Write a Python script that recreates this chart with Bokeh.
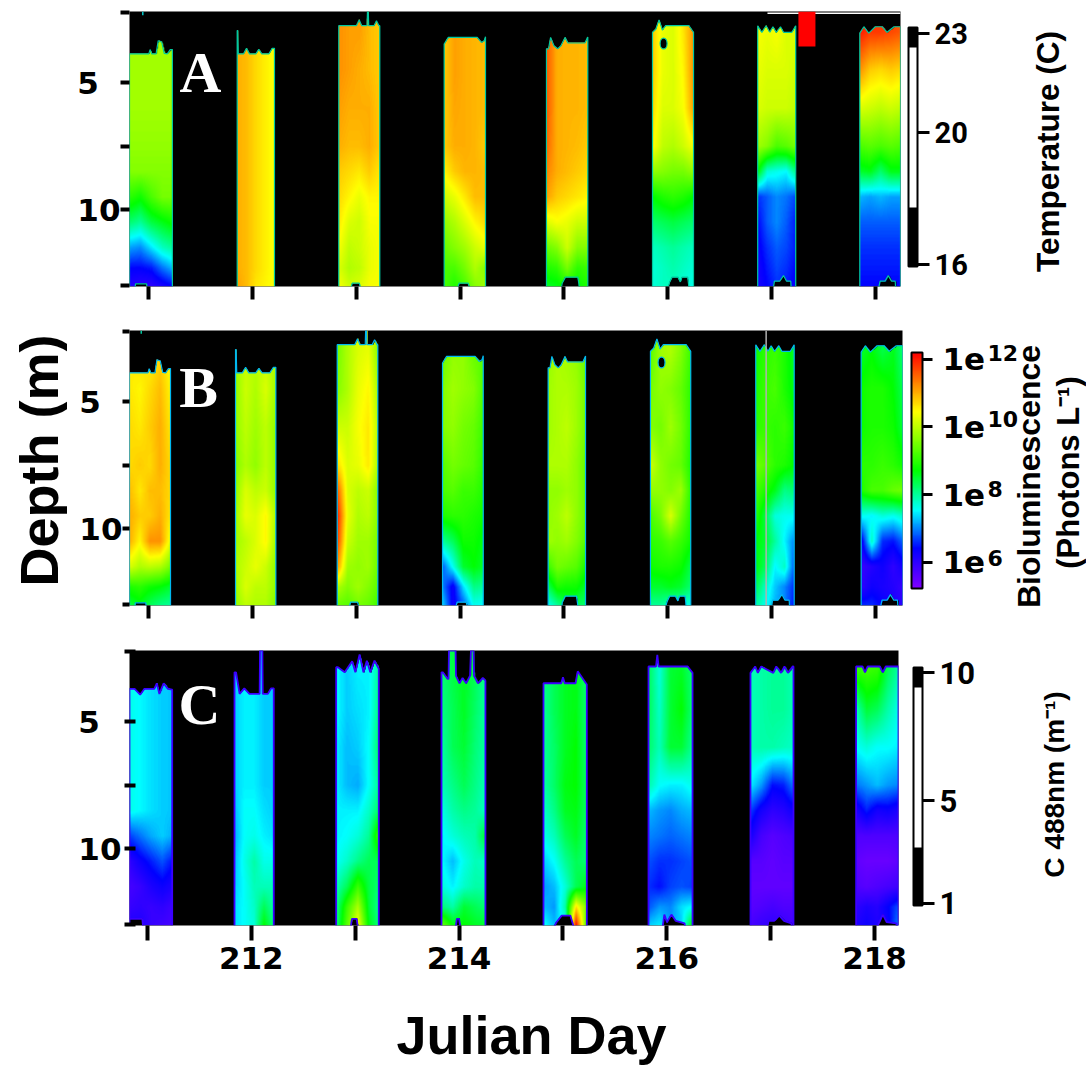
import numpy as np
from bokeh.core.properties import value
from bokeh.embed import file_html
from bokeh.layouts import column, row
from bokeh.models import ColorBar, FixedTicker, Label, LinearColorMapper, Range1d
from bokeh.plotting import figure
from bokeh.resources import INLINE

# ---------------------------------------------------------------- data
days = [211, 212, 213, 214, 215, 216, 217, 218]
depths = [3.0, 4.5, 6.0, 7.5, 8.5, 9.5, 10.5, 11.5, 12.3, 13.03]
across = [0.0, 0.25, 0.5, 0.75, 1.0]

# cast extents (julian day, left and right edge) per panel
casts_a = [(210.817, 211.23), (211.854, 212.213), (212.832, 213.227), (213.847, 214.245),
           (214.832, 215.23), (215.853, 216.248), (216.866, 217.232), (217.849, 218.241)]
casts_b = [(210.817, 211.212), (211.838, 212.226), (212.817, 213.208), (213.831, 214.223),
           (214.848, 215.208), (215.833, 216.221), (216.847, 217.217), (217.862, 218.264)]
casts_c = [(210.827, 211.238), (211.838, 212.216), (212.817, 213.227), (213.831, 214.254),
           (214.813, 215.23), (215.824, 216.248), (216.806, 217.22), (217.823, 218.231)]

# temperature, deg C
temp_211 = [[20.6]*5, [20.6]*5, [20.6]*5, [20.5]*5, [20.4]*5,
            [19.8,19.6,20.0,20.3,20.3], [19.0,18.8,19.2,19.4,19.6], [17.9,17.8,18.2,18.6,18.8],
            [17.2,17.2,17.3,17.7,18.0], [16.9,16.8,16.8,17.0,17.2]]
temp_212 = [[21.8,21.7,21.5,21.35,21.2]]*9 + [[21.9,21.7,21.4,21.3,21.2]]
temp_213 = [[22.0,21.9,21.9,21.7,21.6], [22.0,21.9,21.8,21.7,21.6], [21.9,21.8,21.8,21.8,21.6],
            [21.8,21.7,21.7,21.8,21.6], [21.6,21.5,21.4,21.6,21.4], [21.5,21.3,21.1,21.3,21.3],
            [21.4,21.0,20.9,21.2,21.2], [21.2,20.8,20.9,21.1,21.2], [21.0,20.7,20.8,21.1,21.2],
            [21.2,20.9,21.0,21.2,21.2]]
temp_214 = [[21.6,21.9,21.8,21.75,21.7], [21.6,21.9,21.8,21.75,21.7], [21.6,21.85,21.8,21.75,21.7],
            [21.6,21.8,21.8,21.75,21.6], [21.3,21.6,21.75,21.75,21.7], [20.9,21.1,21.4,21.7,21.7],
            [20.5,20.7,21.0,21.3,21.5], [20.2,20.4,20.6,20.9,21.1], [20.0,20.0,20.3,20.7,20.4],
            [20.0,19.7,20.0,20.4,20.6]]
temp_215 = [[22.4,21.8,21.75,21.75,21.7], [22.4,21.8,21.75,21.75,21.7], [22.4,21.8,21.75,21.75,21.7],
            [22.3,21.8,21.75,21.7,21.6], [22.1,21.8,21.7,21.6,21.5], [21.9,21.6,21.5,21.4,21.3],
            [21.0,21.2,21.1,20.9,20.9], [20.2,20.4,20.9,20.4,20.4], [19.7,19.8,20.3,19.8,19.9],
            [19.3,19.4,19.6,19.5,19.7]]
temp_216 = [[21.6,21.1,21.0,21.4,22.0], [21.6,21.1,21.0,21.3,22.0], [21.5,21.0,21.0,21.2,21.9],
            [21.3,20.8,20.7,20.9,21.2], [20.5,20.4,20.3,20.3,20.5], [19.5,19.7,19.8,19.7,19.5],
            [19.0,19.1,19.2,19.1,19.0], [18.6,18.7,18.8,18.7,18.6], [18.5,18.6,18.7,18.6,18.5],
            [18.5,18.6,18.6,18.5,18.4]]
temp_217 = [[21.2,21.1,21.2,21.0,21.0], [21.1,21.0,21.0,21.0,20.9], [21.0,20.9,20.9,20.9,20.8],
            [20.6,20.4,20.0,20.1,20.3], [19.5,18.5,18.4,18.3,18.9], [17.4,17.6,17.8,17.7,17.5],
            [17.2,17.6,17.8,17.6,17.3], [17.1,17.4,17.6,17.5,17.3], [17.0,17.3,17.5,17.4,17.2],
            [17.0,17.2,17.4,17.3,17.1]]
temp_218 = [[22.8,22.6,22.6,22.5,22.4], [22.0,21.6,21.5,21.6,21.5], [21.0,20.9,20.8,20.9,20.8],
            [20.0,20.1,20.0,20.1,20.0], [19.3,19.4,19.0,19.4,19.4], [18.0,17.9,18.0,17.9,17.9],
            [17.6,17.6,17.6,17.6,17.6], [17.4,17.4,17.4,17.4,17.4], [17.3,17.3,17.3,17.3,17.3],
            [17.2,17.2,17.2,17.2,17.2]]

# bioluminescence, log10 photons per litre
biol_211 = [[10.5,10.7,10.5,10.7,10.4], [10.6,10.5,10.7,10.9,10.5], [10.7,10.6,10.8,11.0,10.6],
            [10.7,10.8,10.7,11.0,10.7], [10.9,10.6,10.9,10.9,10.7], [11.0,10.8,10.8,11.0,10.6],
            [11.0,10.5,11.2,11.2,10.3], [10.2,9.9,10.0,9.9,9.5], [8.9,9.0,8.8,8.7,8.5],
            [8.4,8.6,8.3,8.1,8.0]]
biol_212 = [[9.8,10.0,10.0,10.0,9.9], [9.7,10.1,9.9,10.2,9.8], [9.7,10.0,9.8,10.0,9.7],
            [9.6,9.9,9.7,10.0,9.7], [9.7,10.2,10.0,10.1,9.7], [9.8,10.3,10.2,10.5,9.9],
            [9.8,10.0,10.2,10.5,9.8], [9.9,10.1,10.3,10.1,9.7], [9.8,10.2,10.0,10.0,9.7],
            [9.7,10.0,9.9,9.9,9.6]]
biol_213 = [[9.5,9.9,10.2,10.3,9.6], [9.6,9.9,10.3,10.5,9.8], [10.1,10.1,10.4,10.6,9.9],
            [10.7,10.2,10.3,10.6,9.8], [11.6,10.2,10.0,10.1,9.6], [12.0,10.3,9.9,10.0,9.6],
            [11.8,10.1,9.8,9.8,9.5], [11.2,9.8,9.7,9.8,9.4], [9.9,9.6,9.8,9.6,9.3],
            [9.4,9.3,9.5,9.4,9.1]]
biol_214 = [[9.4,9.7,9.7,9.4,9.3], [9.6,9.8,9.7,9.6,9.2], [9.6,9.7,9.5,9.4,9.1],
            [9.3,9.5,9.4,9.3,9.0], [9.2,9.3,9.1,9.1,8.9], [8.9,9.0,9.0,8.9,8.8],
            [8.0,8.3,8.8,8.8,8.6], [6.8,7.6,8.5,8.7,8.5], [7.0,6.3,7.4,8.1,8.0],
            [7.4,6.3,6.8,7.6,7.5]]
biol_215 = [[9.7,9.9,9.8,9.7,9.4], [9.8,9.9,9.9,9.8,9.5], [9.8,9.9,10.0,9.8,9.5],
            [9.9,9.9,9.9,9.7,9.4], [9.7,9.7,9.8,9.7,9.4], [9.7,9.8,10.0,9.7,9.4],
            [9.8,9.7,9.8,9.6,9.3], [9.1,9.5,9.4,9.3,8.9], [8.3,8.9,8.8,8.8,8.5],
            [7.6,8.0,8.4,8.3,8.2]]
biol_216 = [[9.3,9.8,9.9,9.6,9.1], [9.5,9.7,9.6,9.4,9.0], [9.6,9.5,9.8,9.5,9.0],
            [10.1,9.7,9.5,9.4,8.9], [9.7,9.7,9.6,9.8,9.0], [9.2,9.5,10.2,9.5,8.9],
            [9.0,9.1,9.3,9.1,8.8], [8.8,8.9,8.9,8.8,8.4], [8.5,8.5,8.6,8.5,8.2],
            [8.0,8.0,7.8,7.8,7.6]]
biol_217 = [[8.8,9.0,9.1,8.9,8.5], [8.9,9.1,9.2,8.9,8.6], [9.0,9.1,9.0,9.1,8.8],
            [9.5,9.3,9.0,8.9,8.7], [9.2,8.9,8.6,8.1,8.2], [9.0,8.4,7.7,7.6,7.6],
            [8.7,8.5,8.0,7.5,7.0], [8.7,8.3,7.5,7.8,6.8], [8.4,7.8,7.3,7.0,6.6],
            [8.0,7.6,7.2,7.0,6.5]]
biol_218 = [[8.5,8.7,8.4,8.6,8.1], [8.8,8.9,8.9,8.7,8.3], [8.8,8.9,8.9,8.8,8.4],
            [9.0,9.0,9.1,9.0,8.8], [8.9,9.2,9.2,9.4,9.5], [7.6,7.5,7.7,7.6,7.8],
            [6.2,7.8,6.6,6.5,6.9], [5.9,6.1,6.3,6.0,6.3], [6.0,6.3,6.2,6.1,5.9],
            [6.6,6.6,6.4,6.2,6.0]]

# beam attenuation at 488 nm, per metre
c488_211 = [[4.1,3.95,3.8,3.7,3.65]]*5 + [[2.9,3.2,3.5,3.7,3.5], [2.0,2.4,2.7,3.0,2.6],
            [1.7,1.9,2.2,2.4,2.2], [1.9,2.0,1.9,2.0,1.8], [2.2,2.2,1.9,1.8,1.7]]
c488_212 = [[3.7,3.9,3.9,3.7,3.7]]*4 + [[3.6,4.0,4.0,3.8,3.7], [3.5,4.0,4.1,3.9,3.8],
            [3.6,4.1,4.5,4.1,4.1], [3.7,4.0,4.4,4.4,4.4], [3.8,4.0,4.3,5.0,4.5], [3.8,4.0,4.2,5.5,4.7]]
c488_213 = [[4.0,3.7,3.9,3.9,4.7], [4.0,3.7,3.8,3.9,4.8], [3.9,3.6,3.7,4.0,5.0],
            [3.9,3.6,3.5,4.0,4.7], [3.9,3.9,3.9,4.3,5.0], [3.9,4.0,4.2,4.6,6.2],
            [4.0,4.3,4.7,5.0,5.0], [4.4,5.0,6.0,5.1,4.8], [4.6,6.0,7.0,5.2,4.6],
            [4.7,6.3,7.7,5.4,4.7]]
c488_214 = [[4.8,5.1,5.3,5.0,4.6], [4.7,5.0,5.3,4.9,4.5], [4.5,5.0,5.2,4.8,4.5],
            [4.4,4.7,5.0,4.7,4.4], [4.1,4.5,4.7,4.6,4.3], [3.9,4.2,4.4,4.5,5.3],
            [4.0,3.6,4.1,4.4,4.3], [4.2,3.9,4.3,4.5,4.5], [4.8,4.5,5.2,5.0,4.8],
            [6.5,5.5,5.5,5.3,5.2]]
c488_215 = [[4.7,5.0,5.3,5.4,4.8], [4.6,5.0,5.3,5.4,4.8], [4.6,4.9,5.3,5.5,4.8],
            [4.5,4.9,5.4,5.5,4.9], [4.3,4.7,5.3,5.4,4.9], [4.1,4.4,5.0,5.3,4.8],
            [3.7,4.0,4.6,5.0,4.8], [3.4,3.6,4.2,5.0,5.4], [3.6,3.4,4.5,8.0,6.5],
            [4.1,3.6,4.0,10.0,6.0]]
c488_216 = [[5.0,4.2,5.2,5.3,4.8], [5.0,4.3,5.2,5.5,4.8], [4.9,4.4,5.2,5.2,4.6],
            [4.5,4.0,3.9,3.9,4.1], [3.6,3.4,3.3,3.5,3.6], [3.3,3.2,3.1,3.2,3.3],
            [3.0,2.8,2.8,2.9,3.0], [2.8,2.6,2.9,3.0,2.9], [3.0,3.4,3.3,3.8,4.0],
            [3.7,3.9,3.4,3.7,5.6]]
c488_217 = [[4.4,4.5,4.6,4.6,4.4], [4.4,4.5,4.6,4.6,4.4], [4.4,4.5,4.5,4.4,4.3],
            [3.9,3.4,2.6,2.7,3.3], [2.9,2.3,2.0,2.1,2.4], [2.3,1.7,1.5,1.6,1.7],
            [1.5,1.5,1.4,1.5,1.5], [1.4,1.4,1.4,1.4,1.4], [1.5,1.6,1.7,1.6,1.6],
            [1.7,1.9,2.0,1.9,1.7]]
c488_218 = [[5.9,6.0,5.9,5.0,4.5], [4.4,5.2,5.0,4.5,4.1], [4.0,4.2,4.0,4.0,3.9],
            [3.2,3.4,3.6,3.4,3.3], [2.2,2.7,2.3,2.4,2.2], [1.6,1.6,1.6,1.6,1.6],
            [1.4,1.3,1.3,1.3,1.4], [1.6,1.5,1.6,1.7,1.8], [2.0,2.2,2.1,2.5,3.0],
            [2.2,2.4,2.2,2.4,3.3]]

# water surface (fraction across the cast, depth) seen by the temperature and bioluminescence sensors
top_ab_211 = [(0,3.87),(.45,3.87),(.48,3.7),(.52,3.87),(.62,3.87),(.67,3.35),(.75,3.4),(.81,3.85),(.88,3.87),(.95,3.7),(1,3.7)]
top_ab_212 = [(0,2.95),(.015,2.95),(.03,3.87),(.17,3.87),(.25,3.65),(.33,3.87),(.5,3.87),(.58,3.69),(.66,3.87),(.85,3.87),(.94,3.65),(1,3.65)]
top_ab_213 = [(0,2.76),(.43,2.76),(.5,2.53),(.56,2.76),(.69,2.76),(.7,2.2),(.72,2.2),(.73,2.76),(.86,2.76),(.92,2.56),(.98,2.76),(1,2.76)]
top_ab_214 = [(0,3.48),(.1,3.22),(.8,3.22),(.9,3.42),(.97,3.35),(1,3.19)]
top_ab_215 = [(0,3.67),(.05,3.67),(.1,3.22),(.18,3.55),(.27,3.67),(.35,3.55),(.45,3.22),(.52,3.44),(.93,3.44),(1,3.2)]
top_ab_216 = [(0,3.02),(.08,2.9),(.16,2.53),(.24,2.93),(.32,2.76),(.89,2.76),(1,3.02)]
top_ab_217 = [(0,2.76),(.11,3.02),(.22,2.76),(.32,3.02),(.4,2.8),(.49,3.02),(.6,2.8),(.68,3.02),(.9,3.02),(1,2.76)]
top_ab_218 = [(0,3.05),(.1,2.8),(.22,3.05),(.38,2.8),(.55,2.8),(.67,3.02),(.84,2.8),(1,2.8)]

# sea-floor mound (fraction, depth) for the same two sensors
bed_ab_211 = [(0,13.1),(.13,13.1),(.14,12.93),(.4,12.93),(.41,13.1),(1,13.1)]
bed_ab_212 = [(0,13.1),(1,13.1)]
bed_ab_213 = [(0,13.1),(.29,13.1),(.33,12.9),(.5,12.9),(.54,13.1),(1,13.1)]
bed_ab_214 = [(0,13.1),(.32,13.1),(.36,12.9),(.58,12.9),(.62,13.1),(1,13.1)]
bed_ab_215 = [(0,13.1),(.36,13.1),(.38,12.9),(.46,12.66),(.76,12.66),(.8,13.1),(1,13.1)]
bed_ab_216 = [(0,13.1),(.37,13.1),(.42,12.85),(.48,12.66),(.62,12.66),(.68,12.85),(.72,12.66),(.86,12.66),(.89,13.1),(1,13.1)]
bed_ab_217 = [(0,13.1),(.41,13.1),(.44,12.82),(.58,12.82),(.68,12.6),(.76,12.82),(.87,12.82),(.88,13.1),(1,13.1)]
bed_ab_218 = [(0,13.1),(.46,13.1),(.5,12.82),(.62,12.82),(.7,12.6),(.78,12.82),(.87,12.82),(.88,13.1),(1,13.1)]

# the same two outlines for the attenuation sensor
top_c_211 = [(0,3.71),(.12,3.71),(.25,3.94),(.35,3.71),(.58,3.71),(.64,3.49),(.7,3.91),(.8,3.49),(.9,3.71),(1,3.74)]
top_c_212 = [(0,3.06),(.04,3.06),(.13,3.91),(.25,3.69),(.38,3.91),(.64,3.91),(.65,2.2),(.71,2.2),(.72,3.91),(.85,3.91),(.93,3.69),(1,3.69)]
top_c_213 = [(0,2.86),(.04,2.86),(.2,3.06),(.375,2.62),(.45,3.06),(.55,2.36),(.64,3.06),(.72,2.6),(.8,3.06),(.9,2.6),(1,2.92)]
top_c_214 = [(0,3.06),(.03,3.06),(.14,3.32),(.16,3.32),(.17,2.2),(.32,2.2),(.33,3.2),(.41,3.49),(.48,3.28),(.56,3.49),(.65,3.19),(.67,2.2),(.73,2.2),(.74,3.2),(.83,3.49),(.94,3.28),(1,3.39)]
top_c_215 = [(0,3.49),(.41,3.49),(.45,3.25),(.49,3.49),(.74,3.49),(.79,3.02),(1,3.54)]
top_c_216 = [(0,2.83),(.17,2.83),(.2,2.37),(.23,2.83),(.89,2.83),(1,3.08)]
top_c_217 = [(0,3.08),(.11,2.83),(.17,3.08),(.25,2.83),(.53,3.08),(.6,2.83),(.71,3.08),(.79,2.83),(.87,3.08),(.98,2.83),(1,2.83)]
top_c_218 = [(0,2.83),(.15,2.83),(.21,3.06),(.27,2.83),(.56,2.83),(.63,3.06),(.7,2.83),(1,2.83)]

bed_c_211 = [(0,12.77),(.3,12.77),(.32,13.1),(1,13.1)]
bed_c_212 = [(0,13.1),(1,13.1)]
bed_c_213 = [(0,13.1),(.34,13.1),(.37,12.77),(.48,12.77),(.51,13.1),(1,13.1)]
bed_c_214 = [(0,13.1),(.32,13.1),(.35,12.77),(.4,12.77),(.43,13.1),(1,13.1)]
bed_c_215 = [(0,13.1),(.24,13.1),(.3,12.9),(.42,12.64),(.62,12.64),(.7,13.1),(1,13.1)]
bed_c_216 = [(0,13.1),(.32,13.1),(.36,12.6),(.42,12.9),(.52,12.6),(.62,12.85),(.82,12.95),(.83,13.1),(1,13.1)]
bed_c_217 = [(0,13.1),(.39,13.1),(.42,12.85),(.55,12.85),(.67,12.64),(.78,12.85),(.95,12.95),(.96,13.1),(1,13.1)]
bed_c_218 = [(0,13.1),(.49,13.1),(.55,12.9),(.63,12.6),(.72,12.9),(.95,12.95),(.96,13.1),(1,13.1)]

# small details
pocket_day_a, pocket_day_b, pocket_depth = 215.96, 215.94, 3.46
red_block = (217.258, 217.422, 2.2, 3.58)
rule_a = (216.96, 218.241, 2.27)
rule_b = (216.947, 2.2, 13.03)
stray_a = (210.945, 2.2, 2.35)
stray_b = (210.93, 2.2, 2.33)

temperature_ticks = [16, 20, 23]
biolum_ticks = [6, 8, 10, 12]
c488_ticks = [1, 5, 10]

# ---------------------------------------------------------------- styles
NUMFONT = "DejaVu Sans"
TITLEFONT = "Liberation Sans"
STOPS_F = [0, .17, .33, .5, .75, .875, 1]
STOPS_RGB = [(127,0,255),(0,0,255),(0,255,255),(0,255,0),(255,255,0),(255,128,0),(255,0,0)]
fs = np.linspace(0, 1, 256)
rainbow = ["#%02x%02x%02x" % tuple(int(round(np.interp(f, STOPS_F, [c[k] for c in STOPS_RGB]))) for k in range(3)) for f in fs]

YTOP, YBOT = 2.2, 13.03
LEFT_W, RIGHT_X = 68, 986
MID_W = RIGHT_X - LEFT_W
PAGE_W, PAGE_H = 1086, 1065


def raster(grid, x0, x1, top, bed):
    nx = max(int(round((x1 - x0) * 103.86)), 2)
    ny = 275
    g = np.array(grid, dtype=float)
    u = (np.arange(nx) + .5) / nx
    ys = YTOP + (np.arange(ny) + .5) / ny * (YBOT - YTOP)
    across_rows = np.array([np.interp(u, across, r) for r in g])
    out = np.array([[np.interp(y, depths, across_rows[:, i]) for i in range(nx)] for y in ys])
    tp = np.interp(u, [a for a, _ in top], [b for _, b in top])
    bd = np.interp(u, [a for a, _ in bed], [b for _, b in bed])
    for i in range(nx):
        out[(ys < tp[i]) | (ys > bd[i]), i] = np.nan
    return out


def make_panel(fig_top, fig_h, ftop, fleft, fright, x_start, x_end, major_x, minor_x, tick_out, tick_in, xtick):
    p = figure(width=MID_W, height=fig_h, frame_width=fright - fleft, frame_height=275,
               x_range=Range1d(x_start, x_end), y_range=Range1d(YBOT, YTOP),
               output_backend="svg", toolbar_location=None,
               min_border_left=fleft - LEFT_W, min_border_right=RIGHT_X - fright,
               min_border_top=ftop - fig_top, min_border_bottom=fig_h - (ftop - fig_top) - 275,
               background_fill_color="black", border_fill_color="white", outline_line_color=None)
    p.grid.visible = False
    p.xaxis.ticker = FixedTicker(ticks=major_x, minor_ticks=minor_x)
    p.yaxis.ticker = FixedTicker(ticks=[5, 10], minor_ticks=[2.25, 7.5, 13])
    for ax in (p.xaxis[0], p.yaxis[0]):
        ax.axis_line_color = None
        ax.major_tick_line_color = "black"
        ax.minor_tick_line_color = "black"
        ax.major_label_text_font = NUMFONT
        ax.major_label_text_font_style = "bold"
        ax.major_label_text_font_size = "31px"
        ax.major_label_text_color = "black"
    p.xaxis.major_tick_line_width = 4
    p.xaxis.minor_tick_line_width = 4
    p.xaxis.major_tick_out = xtick
    p.xaxis.minor_tick_out = xtick
    p.xaxis.major_tick_in = 0
    p.xaxis.minor_tick_in = 0
    p.xaxis.major_label_standoff = 6
    p.yaxis.major_tick_line_width = 4
    p.yaxis.minor_tick_line_width = 4
    p.yaxis.major_tick_out = tick_out
    p.yaxis.minor_tick_out = tick_out
    p.yaxis.major_tick_in = tick_in
    p.yaxis.minor_tick_in = tick_in
    p.yaxis.major_label_overrides = {5: "5\u2007", 10: "10"}
    p.yaxis.major_label_standoff = max(0, fleft - tick_out - 122)
    return p, fleft, ftop + 275


def draw_casts(p, casts, grids, tops, beds, mapper, edge, edge_w):
    for (x0, x1), g, t, b in zip(casts, grids, tops, beds):
        arr = raster(g, x0, x1, t, b)
        p.image(image=[arr], x=x0, y=YTOP, dw=x1 - x0, dh=YBOT - YTOP, color_mapper=mapper)
        w = x1 - x0
        xs = [x0] + [x0 + f * w for f, _ in t] + [x1]
        ys = [YBOT] + [d for _, d in t] + [YBOT]
        p.line(xs, ys, line_color=edge, line_width=edge_w)
        p.line([x0 + f * w for f, _ in b], [d for _, d in b], line_color=edge, line_width=edge_w)


def letter(p, fleft, fbot, text, x, y):
    p.add_layout(Label(x=x - fleft, y=fbot - y, x_units="screen", y_units="screen", text=text,
                       text_font="Liberation Serif", text_font_size="58px", text_font_style="bold",
                       text_color="white", text_align="center", text_baseline="middle"))


def bar(p, fleft, fbot, palette, low, high, ticks, overrides, left, right, top, bottom,
        tick_out, standoff, font, fs_px, border=2):
    m = LinearColorMapper(palette=palette, low=low, high=high)
    cb = ColorBar(color_mapper=m, ticker=FixedTicker(ticks=ticks), major_label_overrides=overrides,
                  width=right - left, height=bottom - top,
                  location=(left - fleft, fbot - bottom), padding=0, margin=0,
                  major_tick_line_color="black", major_tick_line_width=3,
                  major_tick_in=0, major_tick_out=tick_out, minor_tick_line_color=None,
                  label_standoff=standoff, bar_line_color="black", bar_line_width=border,
                  border_line_color=None, background_fill_color=None,
                  major_label_text_font=font, major_label_text_font_style="bold",
                  major_label_text_font_size=f"{fs_px}px", major_label_text_color="black")
    p.add_layout(cb)


def pocket(p, day, edge):
    p.ellipse([day], [pocket_depth], width=0.067, height=0.43, fill_color="black", line_color=edge, line_width=1.2)


def strip(x0, x1, y0, y1):
    """A plain text-only figure whose scales are page pixels."""
    s = figure(width=x1 - x0, height=y1 - y0, x_range=Range1d(x0, x1), y_range=Range1d(y1, y0),
               output_backend="svg", toolbar_location=None, min_border=0,
               background_fill_color="white", border_fill_color="white", outline_line_color=None)
    s.axis.visible = False
    s.grid.visible = False
    return s


def put(s, text, x, y, size, font=TITLEFONT, angle=0.0, align="center", base="middle"):
    s.text([x], [y], text=[text], text_font=value(font), text_font_size=value(f"{size}px"),
           text_font_style="bold", text_color="black", text_align=align, text_baseline=base,
           angle=angle, angle_units="deg")


tops_ab = [top_ab_211, top_ab_212, top_ab_213, top_ab_214, top_ab_215, top_ab_216, top_ab_217, top_ab_218]
beds_ab = [bed_ab_211, bed_ab_212, bed_ab_213, bed_ab_214, bed_ab_215, bed_ab_216, bed_ab_217, bed_ab_218]
tops_c = [top_c_211, top_c_212, top_c_213, top_c_214, top_c_215, top_c_216, top_c_217, top_c_218]
beds_c = [bed_c_211, bed_c_212, bed_c_213, bed_c_214, bed_c_215, bed_c_216, bed_c_217, bed_c_218]

bw_a = ["#000000"] * 59 + ["#ffffff"] * 160 + ["#000000"] * 20
bw_c = ["#000000"] * 58 + ["#ffffff"] * 160 + ["#000000"] * 20

# ---------------------------------------------------------------- panel A
pa, la, ba = make_panel(0, 318, 11, 129, 900, 210.817, 218.241, [], days, 9, 0, 13)
map_a = LinearColorMapper(palette=rainbow, low=16, high=23, nan_color=(0, 0, 0, 0))
draw_casts(pa, casts_a, [temp_211, temp_212, temp_213, temp_214, temp_215, temp_216, temp_217, temp_218],
           tops_ab, beds_ab, map_a, "#00c8a0", 1.2)
pocket(pa, pocket_day_a, "#00c8a0")
pa.segment(x0=[stray_a[0]], x1=[stray_a[0]], y0=[stray_a[1]], y1=[stray_a[2]], line_color="#00c8c8", line_width=1.5)
pa.segment(x0=[rule_a[0]], x1=[rule_a[1]], y0=[rule_a[2]], y1=[rule_a[2]], line_color="white", line_width=1.5)
pa.quad(left=[red_block[0]], right=[red_block[1]], top=[red_block[2]], bottom=[red_block[3]], fill_color="#ff0000", line_color=None)
letter(pa, la, ba, "A", 200, 72)
bar(pa, la, ba, bw_a, 15.94, 23.18, temperature_ticks, {}, 908, 917, 27, 266, 12, 5, "Roboto", 29)

# ---------------------------------------------------------------- panel B
pb, lb, bb = make_panel(318, 320, 330, 129, 902, 210.817, 218.26, [], days, 7, 0, 13)
map_b = LinearColorMapper(palette=rainbow, low=5.23, high=12.2, nan_color=(0, 0, 0, 0))
draw_casts(pb, casts_b, [biol_211, biol_212, biol_213, biol_214, biol_215, biol_216, biol_217, biol_218],
           tops_ab, beds_ab, map_b, "#00b8f0", 1.2)
pocket(pb, pocket_day_b, "#00b8f0")
pb.segment(x0=[stray_b[0]], x1=[stray_b[0]], y0=[stray_b[1]], y1=[stray_b[2]], line_color="#00c8a0", line_width=1.5)
pb.segment(x0=[rule_b[0]], x1=[rule_b[0]], y0=[rule_b[1]], y1=[rule_b[2]], line_color="#b0b0b0", line_width=1.5)
letter(pb, lb, bb, "B", 198, 387)
bar(pb, lb, bb, rainbow, 5.23, 12.2, biolum_ticks, {6: "1e", 8: "1e", 10: "1e", 12: "1e"}, 911, 922, 352, 588, 10, 10, NUMFONT, 31)

# ---------------------------------------------------------------- panel C
pc, lc, bc = make_panel(638, 362, 650, 130, 899, 210.827, 218.231, [212, 214, 216, 218], [211, 213, 215, 217], 5, 6, 15)
map_c = LinearColorMapper(palette=rainbow, low=1, high=10, nan_color=(0, 0, 0, 0))
draw_casts(pc, casts_c, [c488_211, c488_212, c488_213, c488_214, c488_215, c488_216, c488_217, c488_218],
           tops_c, beds_c, map_c, "#3a00ff", 1.8)
letter(pc, lc, bc, "C", 200, 704)
bar(pc, lc, bc, bw_c, 0.92, 10.2, c488_ticks, {}, 914, 923, 667, 905, 12, 5, "Roboto", 31)

# ---------------------------------------------------------------- text strips around the panels
left_strip = strip(0, LEFT_W - 1, 0, PAGE_H)
put(left_strip, "Depth (m)", 38, 460, 54, angle=90)

bottom_strip = strip(LEFT_W, RIGHT_X, 1000, PAGE_H)
put(bottom_strip, "Julian Day", 548, 1034, 54)

right_strip = strip(RIGHT_X - 1, PAGE_W, 0, PAGE_H)
put(right_strip, "Temperature (C)", 1047, 151, 31.5, angle=90)
put(right_strip, "Bioluminescence", 1028, 476, 32, angle=90)
put(right_strip, "(Photons L⁻¹)", 1068, 472, 31, angle=90)
put(right_strip, "C 488nm (m⁻¹)", 1054, 784, 28, angle=90)
for txt, yy in [("12", 352), ("10", 418), ("8", 488), ("6", 557)]:
    put(right_strip, txt, 987, yy, 22, font=NUMFONT, align="left")

page = row(left_strip, column(pa, pb, pc, bottom_strip, spacing=0), right_strip, spacing=0)
open("out.html", "w").write(file_html(page, INLINE))
